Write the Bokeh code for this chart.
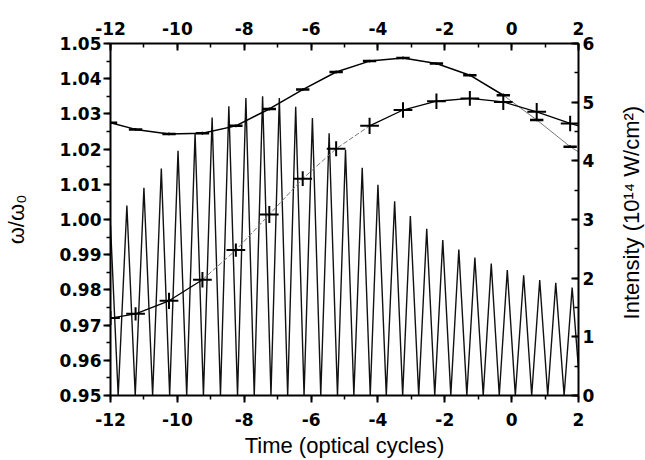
from math import pi
from bokeh.plotting import figure
from bokeh.layouts import row
from bokeh.core.properties import value
from bokeh.models import Range1d, LinearAxis, SingleIntervalTicker, PrintfTickFormatter
from bokeh.embed import file_html
from bokeh.resources import INLINE

# ---- Intensity oscillation (right axis, 10^14 W/cm^2) ----
edge_t = [-12.0, 2.0]
edge_I = [2.90, 0.45]
trough_t = [-11.77, -11.26, -10.74, -10.23, -9.72, -9.22, -8.71, -8.20, -7.70, -7.20,
            -6.70, -6.21, -5.71, -5.21, -4.72, -4.23, -3.75, -3.26, -2.78, -2.30,
            -1.82, -1.34, -0.85, -0.37, 0.11, 0.60, 1.08, 1.57]
peak_t = [-11.51, -11.00, -10.48, -9.98, -9.47, -8.96, -8.46, -7.95, -7.45, -6.95,
          -6.46, -5.96, -5.46, -4.97, -4.47, -4.00, -3.50, -3.03, -2.54, -2.06,
          -1.58, -1.10, -0.61, -0.13, 0.36, 0.84, 1.32, 1.81]
peak_I = [3.24, 3.54, 3.87, 4.17, 4.47, 4.74, 4.93, 5.07, 5.10, 5.07,
          4.92, 4.73, 4.47, 4.19, 3.88, 3.59, 3.31, 3.06, 2.84, 2.65,
          2.49, 2.35, 2.25, 2.14, 2.05, 1.97, 1.92, 1.84]

# ---- Frequency series (left axis, omega/omega0) ----
pts_t = [-12.0, -11.25, -10.25, -9.25, -8.25, -7.25, -6.25, -5.25, -4.25, -3.25,
         -2.25, -1.25, -0.25, 0.75, 1.75]
a_w = [1.0275, 1.0256, 1.0243, 1.0245, 1.0266, 1.0314, 1.0369, 1.0419, 1.0450, 1.0459,
       1.0443, 1.0410, 1.0353, 1.0283, 1.0207]
a_xerr = [0.2] * 15
a_yerr = [0.0004] * 15
a_end = 1.0192
b_w = [0.9720, 0.9732, 0.9769, 0.9829, 0.9913, 1.0014, 1.0116, 1.0201, 1.0266, 1.0311,
       1.0336, 1.0344, 1.0334, 1.0306, 1.0273]
b_xerr = [0.28] * 15
b_yerr = [0.0020, 0.0019, 0.0023, 0.0022, 0.0019, 0.0024, 0.0021, 0.0021, 0.0023, 0.0022,
          0.0022, 0.0021, 0.0023, 0.0025, 0.0022]
b_end = 1.0266
line_end_t = 2.0

x_ticks_interval = 2
left_ticks_interval = 0.01
right_ticks_interval = 1
right_title = "Intensity (10¹⁴ W/cm²)"

p = figure(width=615, height=460, output_backend="svg", toolbar_location=None,
           x_range=Range1d(-12, 2), y_range=Range1d(0.95, 1.05),
           min_border_left=108, min_border_right=37, min_border_top=43, min_border_bottom=63,
           background_fill_color="white", border_fill_color="white")
p.grid.visible = False
p.outline_line_color = None
p.extra_y_ranges = {"int": Range1d(0, 6)}

TICK_FONT = "DejaVu Sans"
LABEL_FONT = "Liberation Sans"


def style_axis(ax, tin, tout, standoff):
    ax.axis_line_width = 2
    ax.axis_line_color = "black"
    ax.major_tick_line_width = 2
    ax.minor_tick_line_width = 1.5
    ax.major_tick_line_color = "black"
    ax.minor_tick_line_color = "black"
    ax.major_tick_in = tin
    ax.major_tick_out = tout
    ax.minor_tick_in = 4 if tin else 0
    ax.minor_tick_out = 4 if tout else 0
    ax.major_label_text_font = TICK_FONT
    ax.major_label_text_font_size = "17px"
    ax.major_label_text_font_style = "bold"
    ax.major_label_text_color = "black"
    ax.major_label_standoff = standoff


def style_label(ax, text, standoff):
    ax.axis_label = text
    ax.axis_label_text_font = LABEL_FONT
    ax.axis_label_text_font_size = "22px"
    ax.axis_label_text_font_style = "normal"
    ax.axis_label_text_color = "black"
    ax.axis_label_standoff = standoff


xb = p.xaxis[0]
xb.ticker = SingleIntervalTicker(interval=x_ticks_interval, num_minor_ticks=2)
xb.formatter = PrintfTickFormatter(format="%d")
style_axis(xb, 0, 7, 10)
style_label(xb, "Time (optical cycles)", 4)

yl = p.yaxis[0]
yl.ticker = SingleIntervalTicker(interval=left_ticks_interval, num_minor_ticks=2)
yl.formatter = PrintfTickFormatter(format="%.2f")
style_axis(yl, 0, 7, 2)
style_label(yl, "ω/ω₀", 28)

xt = LinearAxis(ticker=SingleIntervalTicker(interval=x_ticks_interval, num_minor_ticks=2),
                formatter=PrintfTickFormatter(format="%d"))
style_axis(xt, 7, 0, 9)
p.add_layout(xt, "above")

yr = LinearAxis(y_range_name="int",
                ticker=SingleIntervalTicker(interval=right_ticks_interval, num_minor_ticks=2),
                formatter=PrintfTickFormatter(format="%d"))
style_axis(yr, 7, 0, 4)
p.add_layout(yr, "right")

# ---- intensity curve ----
osc_x = [edge_t[0]]
osc_y = [edge_I[0]]
for tr, pk, h in zip(trough_t, peak_t, peak_I):
    osc_x += [tr, pk]
    osc_y += [0.0, h]
osc_x.append(edge_t[1])
osc_y.append(edge_I[1])
p.line(osc_x, osc_y, y_range_name="int", line_color="#111111", line_width=1.4)

# ---- series A ----
a_lx = pts_t + [line_end_t]
a_ly = a_w + [a_end]
p.line(a_lx[:13], a_ly[:13], line_color="black", line_width=1.5)
p.line(a_lx[12:], a_ly[12:], line_color="#777777", line_width=1.0)
p.segment(x0=[t - e for t, e in zip(pts_t, a_xerr)], y0=a_w,
          x1=[t + e for t, e in zip(pts_t, a_xerr)], y1=a_w,
          line_color="black", line_width=2.5)
p.segment(x0=pts_t, y0=[w - e for w, e in zip(a_w, a_yerr)],
          x1=pts_t, y1=[w + e for w, e in zip(a_w, a_yerr)],
          line_color="black", line_width=1.5)

# ---- series B ----
b_lx = pts_t + [line_end_t]
b_ly = b_w + [b_end]
p.line(b_lx[:4], b_ly[:4], line_color="black", line_width=1.3)
p.line(b_lx[3:9], b_ly[3:9], line_color="#777777", line_width=1.0, line_dash="5 2")
p.line(b_lx[8:], b_ly[8:], line_color="black", line_width=1.3)
p.segment(x0=[t - e for t, e in zip(pts_t, b_xerr)], y0=b_w,
          x1=[t + e for t, e in zip(pts_t, b_xerr)], y1=b_w,
          line_color="black", line_width=2)
p.segment(x0=pts_t, y0=[w - e for w, e in zip(b_w, b_yerr)],
          x1=pts_t, y1=[w + e for w, e in zip(b_w, b_yerr)],
          line_color="black", line_width=2)

# ---- right-hand axis title (reads bottom to top), in a narrow strip ----
q = figure(width=30, height=460, output_backend="svg", toolbar_location=None,
           x_range=Range1d(0, 30), y_range=Range1d(0, 460), min_border=0,
           background_fill_color="white", border_fill_color="white")
q.axis.visible = False
q.grid.visible = False
q.outline_line_color = None
q.text(x=[16], y=[239], text=[right_title], angle=pi / 2,
       text_align="center", text_baseline="middle", text_color="black",
       text_font=value(LABEL_FONT), text_font_size=value("22px"))

open("out.html", "w").write(file_html(row(p, q), INLINE))
